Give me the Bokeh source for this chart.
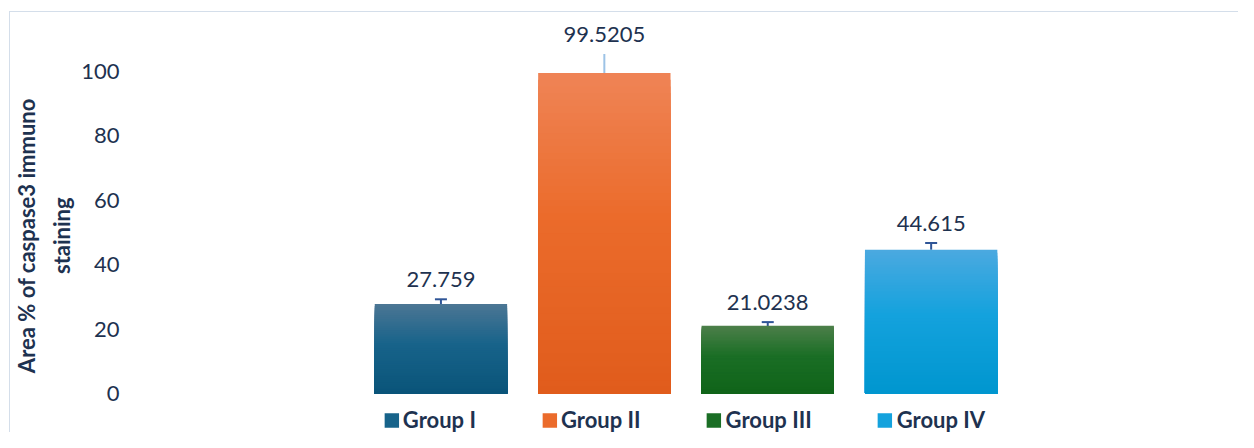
import numpy as np
from bokeh.plotting import figure
from bokeh.models import (ColumnDataSource, Range1d, FixedTicker, Whisker, TeeHead,
                          LabelSet, Legend, LegendItem)
from bokeh.core.properties import value
from bokeh.embed import file_html
from bokeh.resources import INLINE

# ---------------- data ----------------
groups = ["Group I", "Group II", "Group III", "Group IV"]
values = [27.759, 99.5205, 21.0238, 44.615]
value_labels = ["27.759", "99.5205", "21.0238", "44.615"]
err_plus = [1.5, 5.9, 1.15, 2.1]
err_minus = [1.5, 0.0, 1.15, 0.0]
y_ticks = [0, 20, 40, 60, 80, 100]
y_title_lines = ["Area % of caspase3 immuno", "staining"]

# ---------------- styles ----------------
top_colors = ["#4C7694", "#EF8456", "#4D7F4A", "#4BA9E0"]
mid_colors = ["#17638A", "#EB6B2B", "#1A6E25", "#14A2DD"]
bottom_colors = ["#0A5479", "#E05C1C", "#106419", "#0096CF"]
err_colors = ["#2F5597", "#9DC3E6", "#2F5597", "#2F5597"]
err_caps = [True, False, True, True]
NAVY = "#1E3250"
FONT = "Lato"
PAD = "\u00a0" * 4   # nudges the centred axis title slightly downward


def hex2rgb(h):
    h = h.lstrip("#")
    return np.array([int(h[i:i + 2], 16) for i in (0, 2, 4)], dtype=float)


def grad(c0, c1, c2, t):
    a, b, c = hex2rgb(c0), hex2rgb(c1), hex2rgb(c2)
    if t < 0.45:
        col = a + (b - a) * (t / 0.45)
    else:
        col = b + (c - b) * ((t - 0.45) / 0.55)
    r, g, bb = [int(round(v)) for v in col]
    return "#%02x%02x%02x" % (r, g, bb)


xs = list(range(len(groups)))

p = figure(width=1229, height=421, output_backend="svg", toolbar_location=None,
           x_range=Range1d(-1.912, 4.887), y_range=Range1d(-12.42, 117.08),
           x_axis_location=None, min_border_left=115, min_border_right=0,
           min_border_top=4, min_border_bottom=0)
p.styles = {"border-top": "1px solid #D4DEEA", "border-left": "1px solid #D4DEEA",
            "margin-top": "11px", "margin-left": "9px", "box-sizing": "border-box"}
p.outline_line_color = None
p.xgrid.visible = False
p.ygrid.visible = False
p.background_fill_color = "white"
p.border_fill_color = "white"

# ---------------- gradient bars (stacked overlapping slices) ----------------
N = 48
for k in range(N):
    frac = (N - k) / N
    t = (k + 0.5) / N
    cols = [grad(top_colors[i], mid_colors[i], bottom_colors[i], t) for i in range(len(groups))]
    src = ColumnDataSource(dict(x=xs, top=[v * frac for v in values], color=cols))
    p.vbar(x="x", top="top", bottom=0, width=0.81, fill_color="color",
           line_color=None, source=src)

# legend proxy renderer (mid colors) with zero-height bars
leg_src = ColumnDataSource(dict(x=xs, top=[0] * len(xs), color=mid_colors))
leg_r = p.vbar(x="x", top="top", bottom=0, width=0.81, fill_color="color",
               line_color=None, source=leg_src)

# ---------------- error bars ----------------
for i in range(len(groups)):
    src = ColumnDataSource(dict(base=[xs[i]], upper=[values[i] + err_plus[i]],
                                lower=[values[i] - err_minus[i]]))
    up = TeeHead(size=12, line_color=err_colors[i], line_width=2) if err_caps[i] else None
    lo = TeeHead(size=12, line_color=err_colors[i], line_width=2) if (err_caps[i] and err_minus[i] > 0) else None
    w = Whisker(base="base", upper="upper", lower="lower", source=src, dimension="height",
                line_color=err_colors[i], line_width=2, upper_head=up, lower_head=lo)
    p.add_layout(w)

# ---------------- value labels ----------------
lab_src = ColumnDataSource(dict(x=xs, y=[values[i] + err_plus[i] for i in range(len(xs))],
                                text=value_labels))
labels = LabelSet(x="x", y="y", text="text", source=lab_src, text_align="center",
                  text_baseline="middle", y_offset=20, text_font=value(FONT),
                  text_font_size=value("22px"), text_color=value(NAVY))
p.add_layout(labels)

# ---------------- y axis ----------------
ax = p.yaxis[0]
ax.ticker = FixedTicker(ticks=y_ticks)
ax.axis_line_color = None
ax.major_tick_line_color = None
ax.minor_tick_line_color = None
ax.major_tick_out = 0
ax.major_tick_in = 0
ax.major_label_standoff = 9
ax.major_label_text_font = FONT
ax.major_label_text_font_size = "22px"
ax.major_label_text_color = NAVY
ax.axis_label = "\n".join(line + PAD for line in y_title_lines)
ax.axis_label_text_font = FONT
ax.axis_label_text_font_style = "bold"
ax.axis_label_text_font_size = "22px"
ax.axis_label_text_color = NAVY
ax.axis_label_standoff = 3
ax.axis_label_text_line_height = 1.3

# ---------------- legend ----------------
items = [LegendItem(label=groups[i], renderers=[leg_r], index=i) for i in range(len(groups))]
legend = Legend(items=items, orientation="horizontal", location="bottom_center",
                border_line_color=None, background_fill_alpha=0, glyph_width=18,
                glyph_height=18, label_standoff=3, spacing=64, padding=0, margin=0,
                label_text_font=FONT, label_text_font_style="bold",
                label_text_font_size="22px", label_text_color=NAVY)
p.add_layout(legend)

open("out.html", "w").write(file_html(p, INLINE))
